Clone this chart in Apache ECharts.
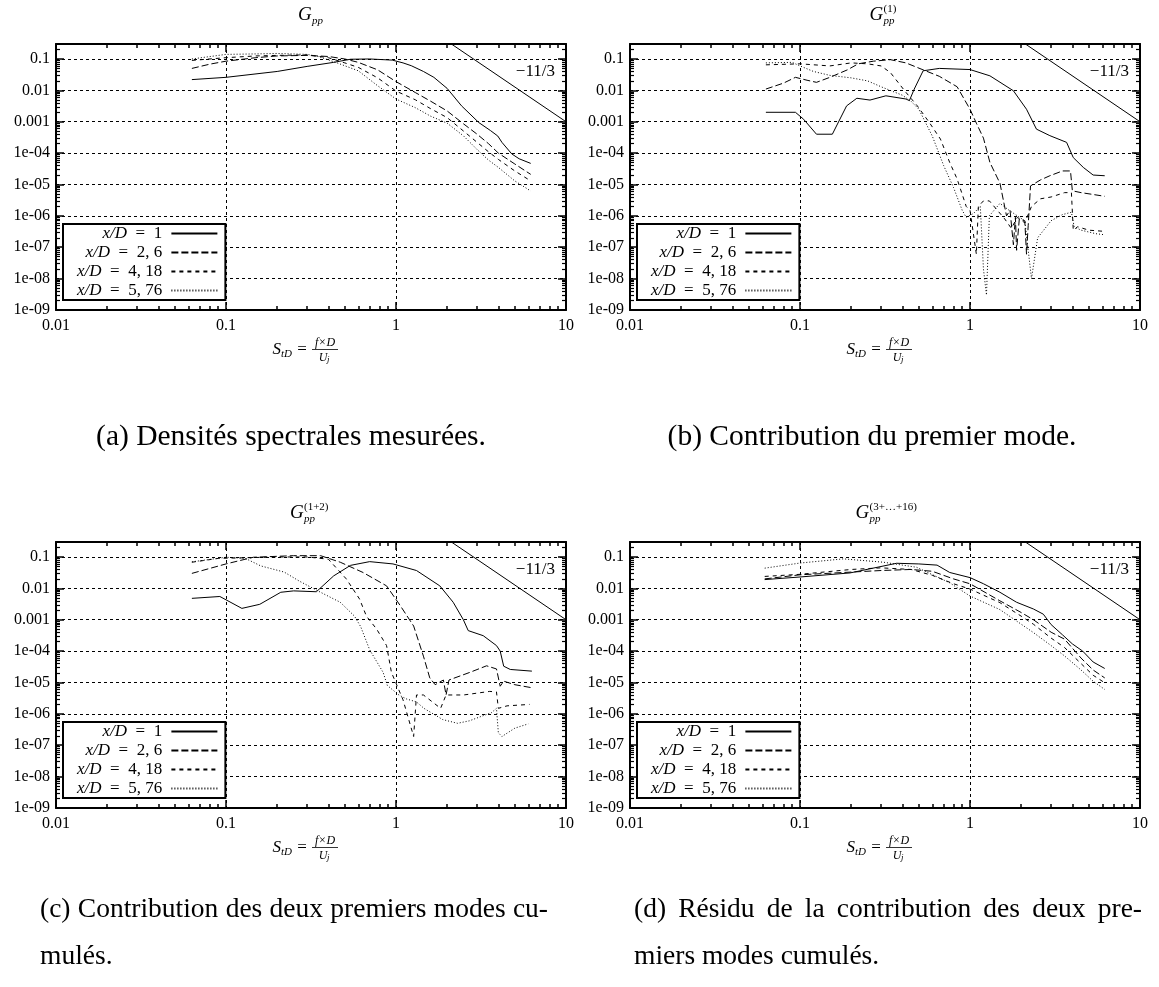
<!DOCTYPE html>
<html>
<head>
<meta charset="utf-8">
<script src="https://cdn.jsdelivr.net/npm/echarts@6/dist/echarts.min.js"></script>
<style>
html, body { margin: 0; padding: 0; background: #fff; }
#chart { width: 1159px; height: 987px; }
</style>
</head>
<body>
<div id="chart"></div>
<script>
// --- data: [St_D, G] pairs ---
const seriesNames = ['x/D = 1', 'x/D = 2,6', 'x/D = 4,18', 'x/D = 5,76'];
const dashTypes = ['solid', [7, 3], [4, 4], [1, 2]];
const refLine = [[2, 0.37], [10, 0.001]];   // pente -11/3

// (a) G_pp
const a_xd1 = [[0.063,0.022],[0.1,0.026],[0.2,0.040],[0.3,0.058],[0.43,0.078],[0.54,0.098],[0.7,0.1],[0.95,0.092],[1.1,0.075],[1.23,0.061],[1.45,0.04],[1.67,0.026],[2.0,0.0115],[2.43,0.0032],[3.07,0.00094],[3.6,0.00052],[3.97,0.00035],[4.2,0.00022],[4.8,0.000094],[5.3,0.000066],[6.2,0.000047]];
const a_xd26 = [[0.063,0.05],[0.08,0.068],[0.1,0.085],[0.15,0.11],[0.2,0.125],[0.3,0.13],[0.4,0.12],[0.5,0.1],[0.6,0.078],[0.78,0.045],[1.0,0.019],[1.3,0.0085],[1.6,0.0045],[2.0,0.0022],[2.5,0.00085],[3.0,0.0004],[3.5,0.0002],[4.0,0.0001],[5.0,0.000045],[6.2,0.000021]];
const a_xd418 = [[0.063,0.09],[0.1,0.11],[0.15,0.125],[0.2,0.13],[0.3,0.135],[0.4,0.11],[0.5,0.075],[0.6,0.054],[0.78,0.025],[1.0,0.0095],[1.3,0.005],[1.6,0.0026],[2.0,0.00135],[2.5,0.0005],[3.0,0.00022],[3.5,0.00011],[4.0,0.000063],[5.0,0.000027],[6.2,0.000013]];
const a_xd576 = [[0.063,0.1],[0.1,0.14],[0.15,0.145],[0.2,0.15],[0.3,0.14],[0.35,0.12],[0.45,0.075],[0.6,0.042],[0.78,0.014],[1.0,0.0053],[1.3,0.0028],[1.6,0.0015],[2.0,0.0009],[2.5,0.00035],[3.0,0.00013],[3.5,0.00006],[4.0,0.000035],[5.0,0.000013],[6.2,0.0000062]];

// (b) G_pp^(1)
const b_xd1 = [[0.063,0.002],[0.094,0.002],[0.105,0.0012],[0.125,0.0004],[0.155,0.0004],[0.188,0.0032],[0.216,0.0056],[0.258,0.0049],[0.32,0.0067],[0.42,0.0053],[0.44,0.0047],[0.47,0.011],[0.53,0.042],[0.66,0.05],[1.0,0.046],[1.31,0.029],[1.8,0.0097],[2.15,0.0025],[2.46,0.00058],[2.95,0.00036],[3.7,0.00022],[4.05,0.000072],[4.64,0.000035],[5.3,0.00002],[6.2,0.000019]];
const b_xd26 = [[0.063,0.011],[0.08,0.017],[0.094,0.026],[0.11,0.021],[0.125,0.018],[0.15,0.026],[0.19,0.045],[0.22,0.07],[0.27,0.085],[0.34,0.095],[0.42,0.075],[0.53,0.045],[0.66,0.028],[0.84,0.013],[1.0,0.0025],[1.09,0.0009],[1.2,0.0003],[1.31,0.00005],[1.5,0.000011],[1.64,0.000001],[1.72,0.0000015],[1.8,0.00000012],[1.85,0.0000009],[1.88,0.00000008],[1.95,0.0000008],[2.1,0.0000007],[2.15,0.00000006],[2.2,0.0000005],[2.27,0.000009],[2.6,0.000014],[2.95,0.000019],[3.5,0.000027],[3.9,0.000027],[4.0,0.0000063],[4.5,0.0000055],[5.3,0.0000048],[6.2,0.0000042]];
const b_xd418 = [[0.063,0.065],[0.1,0.07],[0.15,0.06],[0.2,0.075],[0.25,0.07],[0.3,0.06],[0.34,0.037],[0.42,0.0086],[0.49,0.0032],[0.58,0.0009],[0.67,0.00028],[0.76,0.00005],[0.84,0.000015],[0.95,0.000002],[1.0,0.0000015],[1.09,0.00000006],[1.12,0.000002],[1.2,0.000003],[1.3,0.000003],[1.45,0.0000015],[1.6,0.0000008],[1.75,0.0000004],[1.9,0.0000009],[2.1,0.0000006],[2.3,0.000002],[2.6,0.0000035],[3.0,0.000004],[3.6,0.0000055],[3.95,0.0000055],[4.05,0.00000035],[4.3,0.00000045],[5.0,0.00000035],[6.2,0.00000032]];
const b_xd576 = [[0.063,0.075],[0.09,0.078],[0.1,0.06],[0.12,0.04],[0.15,0.03],[0.2,0.025],[0.25,0.02],[0.3,0.013],[0.4,0.007],[0.45,0.0045],[0.5,0.0025],[0.6,0.00035],[0.7,0.00004],[0.8,0.000008],[0.9,0.0000015],[0.95,0.0000009],[1.05,0.0000012],[1.15,0.000002],[1.2,0.00000002],[1.25,0.000000003],[1.3,0.000001],[1.5,0.0000025],[1.7,0.0000015],[1.9,0.000001],[2.1,0.0000007],[2.3,0.00000001],[2.5,0.0000002],[3.0,0.0000007],[3.5,0.0000011],[3.95,0.0000013],[4.1,0.00000045],[4.5,0.00000035],[5.5,0.00000027],[6.2,0.00000025]];

// (c) G_pp^(1+2)
const c_xd1 = [[0.063,0.0048],[0.092,0.0055],[0.124,0.0023],[0.158,0.0031],[0.21,0.0075],[0.25,0.0083],[0.34,0.0078],[0.43,0.025],[0.54,0.054],[0.7,0.071],[0.96,0.06],[1.32,0.037],[1.81,0.012],[2.17,0.0036],[2.49,0.001],[2.66,0.00045],[3.26,0.00031],[3.9,0.00015],[4.1,0.0001],[4.3,0.000033],[4.7,0.000026],[6.3,0.000023]];
const c_xd26 = [[0.063,0.03],[0.1,0.06],[0.145,0.098],[0.25,0.11],[0.36,0.11],[0.47,0.068],[0.64,0.032],[0.88,0.012],[1.06,0.0028],[1.27,0.00063],[1.45,0.000069],[1.58,0.000014],[1.7,0.0000085],[1.9,0.000012],[1.97,0.000004],[2.05,0.000012],[2.72,0.000021],[3.41,0.000034],[3.9,0.000027],[4.1,0.0000076],[4.3,0.000011],[5.0,0.0000085],[6.3,0.0000068]];
const c_xd418 = [[0.063,0.068],[0.09,0.09],[0.2,0.1],[0.3,0.1],[0.4,0.085],[0.51,0.02],[0.61,0.0046],[0.67,0.0013],[0.77,0.0005],[0.88,0.00015],[0.94,0.000021],[1.1,0.0000028],[1.27,0.00000019],[1.32,0.000004],[1.45,0.000004],[1.83,0.0000015],[1.97,0.000004],[2.0,0.0000035],[2.5,0.000004],[3.56,0.0000052],[3.9,0.000005],[4.0,0.0000015],[4.5,0.0000018],[6.1,0.000002]];
const c_xd576 = [[0.063,0.07],[0.1,0.098],[0.13,0.09],[0.16,0.052],[0.22,0.033],[0.27,0.017],[0.36,0.0075],[0.47,0.0036],[0.57,0.0013],[0.62,0.0006],[0.7,0.00011],[0.84,0.000021],[0.89,0.000008],[1.04,0.000004],[1.15,0.000003],[1.32,0.0000024],[1.46,0.0000015],[1.88,0.00000066],[2.3,0.0000005],[2.7,0.0000006],[3.65,0.0000011],[3.9,0.0000015],[4.0,0.00000025],[4.2,0.00000019],[5.0,0.00000035],[6.0,0.00000048]];

// (d) G_pp^(3+...+16)
const d_xd1 = [[0.062,0.019],[0.1,0.023],[0.197,0.031],[0.37,0.063],[0.5,0.06],[0.64,0.055],[0.76,0.032],[1.0,0.022],[1.2,0.014],[1.5,0.0075],[1.88,0.0036],[2.36,0.0022],[2.7,0.0015],[3.0,0.0007],[3.5,0.00033],[4.0,0.00017],[4.6,0.0001],[5.3,0.000045],[6.2,0.000028]];
const d_xd26 = [[0.062,0.02],[0.1,0.027],[0.2,0.033],[0.3,0.037],[0.45,0.04],[0.6,0.035],[0.8,0.02],[1.0,0.014],[1.5,0.004],[2.0,0.0017],[2.36,0.001],[3.0,0.0004],[3.6,0.00024],[4.5,0.00006],[5.3,0.000025],[6.2,0.000014]];
const d_xd418 = [[0.062,0.024],[0.1,0.028],[0.2,0.04],[0.3,0.045],[0.45,0.04],[0.6,0.026],[0.8,0.014],[1.0,0.0095],[1.5,0.0035],[2.0,0.0013],[2.36,0.00072],[3.0,0.00026],[3.6,0.00013],[4.5,0.00004],[5.3,0.000017],[6.2,0.0000098]];
const d_xd576 = [[0.062,0.044],[0.1,0.064],[0.18,0.087],[0.31,0.068],[0.485,0.047],[0.76,0.015],[1.0,0.0057],[1.5,0.0021],[2.36,0.00039],[3.0,0.00015],[3.6,0.00007],[4.5,0.000025],[5.3,0.000011],[6.2,0.000006]];

const X_MIN = 0.01, X_MAX = 10;
const Y_MIN = 1e-9, Y_MAX = 0.3;

const SERIF = '"Liberation Serif", "DejaVu Serif", serif';

const panels = [
    { left: 56,  top: 44,  curves: [a_xd1, a_xd26, a_xd418, a_xd576], sup: null },
    { left: 630, top: 44,  curves: [b_xd1, b_xd26, b_xd418, b_xd576], sup: '(1)' },
    { left: 56,  top: 542, curves: [c_xd1, c_xd26, c_xd418, c_xd576], sup: '(1+2)' },
    { left: 630, top: 542, curves: [d_xd1, d_xd26, d_xd418, d_xd576], sup: '(3+\u2026+16)' }
];
const GW = 510, GH = 266;

const chart = echarts.init(document.getElementById('chart'));

function yLabel(v) {
    if (v > 0.2) return '';
    const e = Math.round(Math.log10(v));
    if (e >= -3) return String(+v.toFixed(-e));
    return '1e-0' + (-e);
}

function xAxisFor(i, pos) {
    const main = pos === 'bottom';
    return {
        type: 'log', logBase: 10, gridIndex: i, position: pos, min: X_MIN, max: X_MAX,
        axisLine: { show: true, onZero: false, lineStyle: { color: '#000', width: 2 } },
        axisTick: { show: true, inside: true, length: 8, lineStyle: { color: '#000', width: 1.5 } },
        minorTick: { show: true, splitNumber: 9, length: 4, lineStyle: { color: '#000', width: 1.5 } },
        axisLabel: { show: main, margin: 8, color: '#000', fontFamily: SERIF, fontSize: 16 },
        splitLine: { show: main, lineStyle: { color: '#000', width: 1, type: [3, 3] } },
        minorSplitLine: { show: false }
    };
}

function yAxisFor(i, pos) {
    const main = pos === 'left';
    return {
        type: 'log', logBase: 10, gridIndex: i, position: pos, min: Y_MIN, max: Y_MAX,
        axisLine: { show: true, onZero: false, lineStyle: { color: '#000', width: 2 } },
        axisTick: { show: true, inside: true, length: 8, lineStyle: { color: '#000', width: 1.5 } },
        minorTick: { show: true, splitNumber: 9, length: 4, lineStyle: { color: '#000', width: 1.2 } },
        axisLabel: { show: main, margin: 6, color: '#000', fontFamily: SERIF, fontSize: 16, formatter: yLabel },
        splitLine: { show: main, lineStyle: { color: '#000', width: 1, type: [3, 3] } },
        minorSplitLine: { show: false }
    };
}

// --- text helpers (titles, axis names, captions) ---
const measureCtx = document.createElement('canvas').getContext('2d');

function txt(x, y, text, size, extra) {
    return {
        type: 'text', x: x, y: y, silent: true,
        style: Object.assign({
            text: text, fontFamily: SERIF, fontSize: size, fill: '#000',
            align: 'center', verticalAlign: 'middle'
        }, extra || {})
    };
}

function mathTitle(cx, y, sup) {
    const scriptW = sup ? sup.length * 5.6 : 12;
    const x0 = cx - (14 + scriptW) / 2;
    const els = [
        txt(x0, y, 'G', 19, { align: 'left', fontStyle: 'italic' }),
        txt(x0 + 14, y + 6, 'pp', 11, { align: 'left', fontStyle: 'italic' })
    ];
    if (sup) els.push(txt(x0 + 14, y - 6, sup, 11, { align: 'left' }));
    return els;
}

function stLabel(cx, y) {
    return [
        txt(cx - 30, y, 'S', 17, { align: 'right', fontStyle: 'italic' }),
        txt(cx - 30, y + 4, 'tD', 11, { align: 'left', fontStyle: 'italic' }),
        txt(cx - 9, y, '=', 17),
        txt(cx + 14, y - 7, 'f\u00d7D', 12, { fontStyle: 'italic' }),
        { type: 'line', silent: true, shape: { x1: cx + 1, y1: y - 0.5, x2: cx + 27, y2: y - 0.5 }, style: { stroke: '#000', lineWidth: 0.8 } },
        txt(cx + 12, y + 8, 'U', 12, { fontStyle: 'italic' }),
        txt(cx + 16, y + 10, 'j', 9, { align: 'left', fontStyle: 'italic' })
    ];
}

function justifyLine(words, x0, x1, y, size) {
    measureCtx.font = size + 'px "Liberation Serif"';
    const widths = words.map(w => measureCtx.measureText(w).width);
    const total = widths.reduce((s, w) => s + w, 0);
    const gap = (x1 - x0 - total) / (words.length - 1);
    const els = [];
    let x = x0;
    words.forEach((w, k) => {
        els.push(txt(x, y, w, size, { align: 'left' }));
        x += widths[k] + gap;
    });
    return els;
}

const CAP = 29.5;
let elements = [];
panels.forEach(p => {
    const cx = p.left + GW / 2;
    elements = elements.concat(mathTitle(cx, p.top - 29, p.sup));
    elements = elements.concat(stLabel(cx, p.top + GH + 40));
    elements.push(txt(p.left + GW - 11, p.top + 28, '\u221211/3', 17, { align: 'right' }));
});
elements.push(txt(291, 437, '(a) Densités spectrales mesurées.', CAP));
elements.push(txt(872, 437, '(b) Contribution du premier mode.', CAP));
elements = elements.concat(justifyLine('(c) Contribution des deux premiers modes cu-'.split(' '), 40, 548, 910, 27.5));
elements.push(txt(40, 957, 'mulés.', 27.5, { align: 'left' }));
elements = elements.concat(justifyLine('(d) Résidu de la contribution des deux pre-'.split(' '), 634, 1142, 910, 27.5));
elements.push(txt(634, 957, 'miers modes cumulés.', 27.5, { align: 'left' }));

// --- option ---
const xAxes = [], yAxes = [], series = [], legends = [];
panels.forEach((p, i) => {
    xAxes.push(xAxisFor(i, 'bottom'), xAxisFor(i, 'top'));
    yAxes.push(yAxisFor(i, 'left'), yAxisFor(i, 'right'));
    p.curves.forEach((d, k) => {
        series.push({
            name: seriesNames[k], type: 'line', xAxisIndex: 2 * i, yAxisIndex: 2 * i,
            data: d, symbol: 'none', clip: true,
            lineStyle: { color: '#000', width: 1, type: dashTypes[k] },
            itemStyle: { color: '#000' }
        });
    });
    series.push({
        name: 'pente', type: 'line', xAxisIndex: 2 * i, yAxisIndex: 2 * i,
        data: refLine, symbol: 'none', clip: true, silent: true,
        lineStyle: { color: '#000', width: 1 }
    });
    legends.push({
        left: p.left + 7, top: p.top + 180,
        orient: 'vertical', align: 'right', selectedMode: false,
        data: seriesNames,
        itemWidth: 46, itemHeight: 13, itemGap: 2,
        padding: [1, 7, 1, 14],
        backgroundColor: '#fff', borderColor: '#000', borderWidth: 2, borderRadius: 0,
        itemStyle: { opacity: 0 },
        formatter: name => name.replace('x/D = ', '{i|x/D}  =  ').replace(',', ', ') + ' ',
        textStyle: {
            color: '#000', fontFamily: SERIF, fontSize: 17,
            rich: { i: { fontStyle: 'italic', fontFamily: SERIF, fontSize: 17, color: '#000' } }
        }
    });
});

chart.setOption({
    backgroundColor: '#fff',
    animation: false,
    grid: panels.map(p => ({ left: p.left, top: p.top, width: GW, height: GH })),
    xAxis: xAxes,
    yAxis: yAxes,
    legend: legends,
    series: series,
    graphic: { elements: elements }
});
</script>
</body>
</html>
